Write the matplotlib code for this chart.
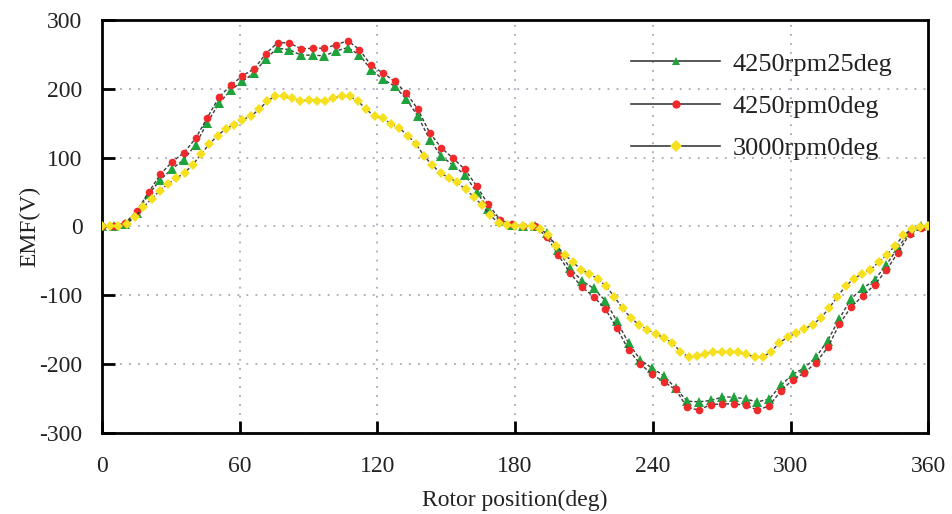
import numpy as np
from matplotlib import pyplot as plt
from matplotlib.lines import Line2D

# 4250 rpm runs are sampled every 5.1 deg, the 3000 rpm run every 3.6 deg
step_4250 = 5.1
step_3000 = 3.6

emf_4250_25deg = [
    0, 0, 3, 20, 47, 68, 84, 97, 119, 151,
    179, 198, 211, 223, 244, 259, 257, 249, 249, 248,
    255, 260, 249, 228, 214, 204, 185, 160, 126, 102,
    89, 75, 50, 26, 8, 2, 1, 0, -10, -35,
    -61, -79, -90, -108, -138, -170, -194, -206, -217, -235,
    -254, -255, -253, -248, -248, -251, -255, -251, -231, -215,
    -206, -190, -166, -134, -105, -90, -78, -56, -31, -8, 1,
]

emf_4250_0deg = [
    0, 1, 5, 23, 50, 76, 94, 107, 128, 158,
    188, 205, 219, 229, 251, 267, 267, 258, 259, 259,
    264, 270, 257, 234, 223, 211, 194, 170, 136, 114,
    99, 83, 59, 32, 10, 3, 1, 0, -15, -42,
    -68, -88, -102, -120, -148, -180, -200, -215, -226, -237,
    -263, -267, -259, -258, -258, -260, -267, -261, -239, -223,
    -213, -198, -176, -142, -117, -101, -85, -64, -38, -11, -2,
]

emf_3000_0deg = [
    0, 0, 1, 4, 14, 28, 40, 52, 62, 70,
    78, 90, 105, 120, 132, 142, 148, 155, 160, 170,
    182, 190, 189, 186, 182, 184, 183, 183, 187, 189,
    189, 182, 170, 160, 157, 149, 143, 132, 120, 102,
    89, 77, 71, 64, 54, 43, 31, 16, 5, 2,
    1, 1, 0, -4, -13, -28, -41, -52, -63, -69,
    -76, -87, -102, -119, -133, -143, -150, -156, -162, -169,
    -182, -190, -189, -185, -182, -183, -183, -183, -186, -190,
    -190, -182, -169, -161, -155, -149, -143, -133, -119, -102,
    -87, -76, -69, -63, -52, -41, -28, -13, -4, -1, 0,
]

labels = ['4250rpm25deg', '4250rpm0deg', '3000rpm0deg']
colors = ['#1fa33c', '#f02a2a', '#f7e11e']
markers = ['^', 'o', 'D']

pos_4250 = np.arange(len(emf_4250_0deg)) * step_4250
pos_3000 = np.arange(len(emf_3000_0deg)) * step_3000

plt.rcParams['font.family'] = ['Liberation Serif', 'DejaVu Serif']
plt.rcParams['axes.unicode_minus'] = False

fig = plt.figure(figsize=(9.53, 5.14), dpi=100)
ax = fig.add_axes([0.107, 0.158, 0.867, 0.803])

line_kw = dict(color='#3c3c3c', lw=1.0, ls=(0, (2.5, 1.5)), markeredgewidth=0)
ax.plot(pos_4250, emf_4250_25deg, marker='^', markersize=6.5,
        markerfacecolor=colors[0], zorder=3, **line_kw)
ax.plot(pos_4250, emf_4250_0deg, marker='o', markersize=5.5,
        markerfacecolor=colors[1], zorder=4, **line_kw)
ax.plot(pos_3000, emf_3000_0deg, marker='D', markersize=5.5,
        markerfacecolor=colors[2], zorder=5, **line_kw)

ax.set_xlim(0, 360)
ax.set_ylim(-300, 300)
ax.set_xticks(np.arange(0, 361, 60))
ax.set_yticks(np.arange(-300, 301, 100))
ax.grid(True, color='#a8a8b8', ls=(0, (1, 4)), lw=1.3)
ax.tick_params(axis='both', direction='in', length=9, width=2, labelsize=17,
               colors='black', labelcolor='#222222')
ax.tick_params(axis='y', pad=14)
ax.tick_params(axis='x', pad=17)
for s in ax.spines.values():
    s.set_linewidth(2)

ax.set_xlabel('Rotor position(deg)', fontsize=17, color='#222222', labelpad=9)
ax.set_ylabel('EMF(V)', fontsize=17, color='#222222', labelpad=-1)

handles = [Line2D([], [], color='#3c3c3c', lw=1.2, marker=m, markersize=6,
                  markerfacecolor=c, markeredgewidth=0)
           for m, c in zip(markers, colors)]
leg = ax.legend(handles, labels, loc='upper right', bbox_to_anchor=(0.985, 0.98),
                frameon=False, fontsize=19, handlelength=3.4, labelspacing=0.72,
                handletextpad=0.45)
for t in leg.get_texts():
    t.set_color('#222222')

plt.savefig('out.png', dpi=100)
